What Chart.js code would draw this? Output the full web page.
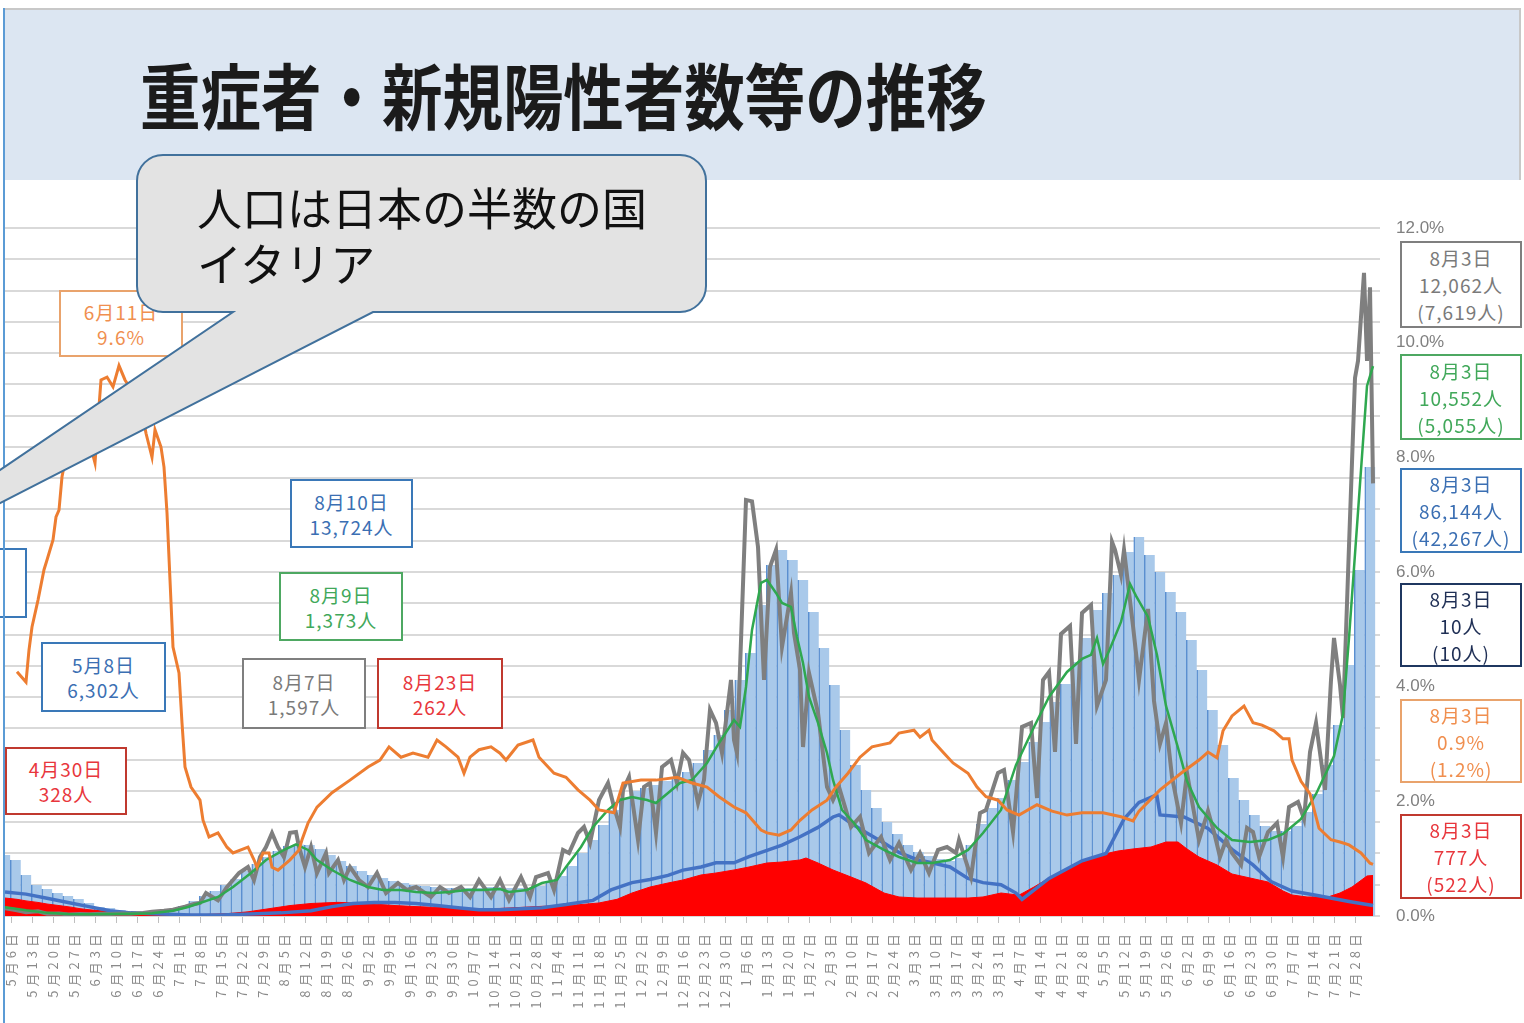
<!DOCTYPE html>
<html lang="ja">
<head>
<meta charset="utf-8">
<title>重症者・新規陽性者数等の推移</title>
<script src="https://cdn.jsdelivr.net/npm/chart.js@4.4.1/dist/chart.umd.min.js"></script>
<style>
  html, body { margin: 0; padding: 0; background: #fff; }
  body { width: 1524px; height: 1023px; position: relative; overflow: hidden; font-family: 'Noto Sans CJK JP', sans-serif; }
  #head { position: absolute; left: 5px; top: 8px; width: 1516px; height: 172px; background: #dce6f2; border-top: 2px solid #c8c8c8; border-right: 2px solid #c8c8c8; box-sizing: border-box; }
  #title { position: absolute; left: 140px; top: 57px; font-size: 72px; font-weight: 700; color: #1b1b1b; white-space: nowrap; line-height: 1; transform: scaleX(0.84); transform-origin: left top; }
  #frame { position: absolute; left: 3px; top: 8px; width: 2px; height: 1015px; background: #5b9bd5; z-index: 3; }
  #wrap { position: absolute; left: 0; top: 180px; width: 1524px; height: 843px; z-index: 1; }
  .box { position: absolute; box-sizing: border-box; background: #fff; border: 2px solid; display: flex; flex-direction: column; justify-content: center; align-items: center; font-size: 19px; letter-spacing: 1px; white-space: nowrap; z-index: 2; overflow: hidden; }
  #bubble { position: absolute; left: 0; top: 0; z-index: 4; }
  #bubbleText { position: absolute; left: 197px; top: 179px; font-size: 45px; line-height: 56px; color: #111; z-index: 5; white-space: nowrap; }
</style>
</head>
<body>
<div id="head"></div>
<div id="title">重症者・新規陽性者数等の推移</div>
<div id="frame"></div>
<div id="wrap"><canvas id="grafico" width="1524" height="843"></canvas></div>
<div id="notes"></div>
<svg id="bubble" width="1524" height="1023">
  <path d="M 163 155 H 680 A 26 26 0 0 1 706 181 V 286 A 26 26 0 0 1 680 312 H 373 L -199 605 L 233 312 H 163 A 26 26 0 0 1 137 286 V 181 A 26 26 0 0 1 163 155 Z"
        fill="#e3e3e3" stroke="#41719c" stroke-width="2"/>
</svg>
<div id="bubbleText">人口は日本の半数の国<br>イタリア</div>

<script>
// 週ごとの目盛り (5月6日 = 0日目)
const weekLabels = [
  '5月6日','5月13日','5月20日','5月27日','6月3日','6月10日','6月17日','6月24日',
  '7月1日','7月8日','7月15日','7月22日','7月29日','8月5日','8月12日','8月19日','8月26日',
  '9月2日','9月9日','9月16日','9月23日','9月30日','10月7日','10月14日','10月21日','10月28日',
  '11月4日','11月11日','11月18日','11月25日','12月2日','12月9日','12月16日','12月23日','12月30日',
  '1月6日','1月13日','1月20日','1月27日','2月3日','2月10日','2月17日','2月24日',
  '3月3日','3月10日','3月17日','3月24日','3月31日','4月7日','4月14日','4月21日','4月28日',
  '5月5日','5月12日','5月19日','5月26日','6月2日','6月9日','6月16日','6月23日','6月30日',
  '7月7日','7月14日','7月21日','7月28日'
]

// 現在患者数 (棒, 3.5日ごと, -2日目から)
const barStart = -2
const barStep = 3.5
const barVals = [
  11700,10750,7870,5950,5180,4410,3840,3260,2490,1730,
  1540,1150,960,770,770,960,1340,1920,2880,3840,
  4800,5950,7100,8640,9980,11320,12470,13430,13724,13600,
  12860,11700,10550,9590,8640,7870,7290,6720,6330,5950,
  5760,5560,5370,5370,5370,5370,5560,5560,5370,5370,
  5370,5760,6520,7680,9590,12090,14580,17460,20340,22640,
  23990,24560,25140,25910,26670,27630,29360,31850,34730,39530,
  45290,50470,59680,67350,70230,68310,64480,58340,51430,44330,
  35690,28980,24180,20720,18040,15740,13620,12280,11510,10940,
  10550,11130,13620,17650,20720,22640,26100,29550,33390,37230,
  41070,44520,48740,53350,58720,61980,65440,69850,72730,69280,
  66010,62180,58340,52960,47210,39530,32810,26480,22260,19380,
  17270,16310,16310,17270,19960,23410,28980,36650,48170,66400,
  86144
]

// 新規陽性者数 (灰)
const casesDays = [-2,2,5,9,12,16,19,23,26,30,33,37,40,44,47,51,54,58,61,63,65,69,72,74,76,79,81,83,85,87,89,91,93,95,96,98,100,102,105,106,109,111,113,116,119,122,125,129,132,135,140,143,146,150,153,156,160,163,166,170,173,175,179,181,184,186,189,191,193,196,199,201,203,204,206,209,211,213,215,217,220,222,224,226,229,231,233,235,237,240,241,242,245,247,249,251,253,255,257,260,261,263,264,266,269,272,274,276,280,283,286,290,293,296,300,303,306,309,312,315,316,320,323,325,329,331,334,337,340,342,344,346,348,350,353,355,357,360,362,365,367,368,370,371,374,376,379,381,383,385,387,390,392,394,396,399,401,403,405,407,410,412,414,416,419,422,424,426,429,431,433,435,438,440,441,443,444,446,448,449,451,452,453,454]
const casesVals = [150,110,70,90,45,50,30,40,35,45,40,50,45,60,80,100,120,180,230,250,440,300,556,691,825,940,691,1132,1324,1593,1324,1132,1597,1612,1324,940,1324,825,1209,825,1075,691,940,691,556,825,441,633,499,556,365,556,441,556,365,691,365,691,307,748,365,748,825,499,1267,1209,1593,1708,1401,2226,2552,2092,1708,2418,2667,1458,2476,2552,1593,2859,2994,2552,3128,2994,2168,2610,3953,3704,3128,4529,3377,3128,7983,7957,7081,4529,6697,7024,5162,6198,5431,4721,3243,4663,3896,2476,2226,2476,1708,1900,1209,1516,1075,1401,883,1209,825,1267,1324,1209,1458,748,1977,2034,2744,2802,1612,3627,3704,2264,4529,4682,3147,5412,5565,3301,5815,5968,4030,4529,7177,7024,6544,7024,5565,4529,5891,4126,3301,3704,2667,1785,2744,2092,1458,2015,1612,1132,1458,1209,979,1689,1612,1132,1612,1785,1132,2092,2188,1861,3147,3704,2418,4529,5335,4433,3800,7100,10324,10650,12341,10650,12062,8300]

// 7日間平均 (緑)
const avgDays = [-2,5,12,19,26,33,40,47,54,59,63,69,74,80,85,91,95,99,102,107,113,119,124,130,135,141,146,152,157,163,166,172,177,182,185,190,194,199,203,207,212,215,219,223,227,232,236,241,243,245,247,250,252,255,257,260,262,264,266,269,272,274,277,281,285,291,296,302,307,313,319,324,330,335,341,346,352,357,360,362,364,366,370,373,375,379,382,385,389,392,396,402,407,413,419,424,430,435,441,444,446,449,451,452,454]
const avgVals = [170,110,60,40,35,40,45,55,100,173,249,365,556,825,1075,1267,1373,1267,1075,883,691,556,499,499,461,441,461,499,499,518,461,499,633,691,940,1324,1708,2034,2226,2284,2226,2168,2360,2552,2610,2936,3320,3761,3627,4394,5488,6390,6448,6198,6006,5930,5354,4855,4203,3704,3128,2610,2034,1785,1458,1267,1132,1017,1017,1075,1267,1593,2034,2898,3627,4203,4682,4932,5009,5335,4836,5085,5642,6371,6141,5738,5009,4030,3224,2591,2092,1689,1458,1420,1458,1574,1861,2341,3070,3876,5335,7753,9365,10171,10552]

// 重症者数 (赤)
const severeDays = [-2,2,5,9,12,16,20,23,26,30,37,44,51,58,65,72,79,86,93,100,109,114,121,128,135,142,149,156,163,170,177,186,196,202,207,213,219,224,230,235,241,246,252,257,263,265,269,274,280,285,291,296,302,307,313,319,324,330,336,341,346,352,357,363,369,374,380,385,389,392,396,402,407,413,419,424,427,432,439,443,447,452,454]
const severeVals = [345,320,290,260,230,200,170,140,120,100,70,50,40,30,30,45,80,140,200,240,262,250,230,200,180,165,150,140,145,165,185,200,250,320,441,556,633,691,787,825,883,940,1017,1036,1075,1113,1017,883,748,633,441,365,345,345,345,345,365,441,400,556,729,883,1055,1171,1247,1286,1324,1420,1420,1286,1132,979,806,729,652,480,403,365,365,441,556,768,777]

// 死亡者数 (青線)
const deathDays = [-2,5,12,19,26,33,40,50,60,70,80,90,100,107,114,121,128,135,142,149,156,163,170,177,185,194,200,207,213,219,224,230,235,241,246,252,257,263,269,274,276,280,285,291,296,302,307,313,319,324,330,335,337,346,357,365,371,376,381,382,383,391,399,407,414,420,427,435,446,454]
const deathVals = [23,21,17,13,9,5,3,2,1,1,2,3,5,9,12,13,13,12,10,8,6,6,7,8,11,15,25,32,35,39,44,47,51,51,57,63,68,76,85,95,97,89,80,70,61,54,51,47,36,32,30,22,16,36,53,60,93,109,115,115,97,95,84,64,49,33,24,20,14,10]

// 陽性率 (橙, %)
const rateDays = [2,5,6,7,9,11,12,14,15,16,17,19,23,26,28,29,30,32,34,36,38,41,44,45,47,48,50,51,52,53,54,56,57,58,60,63,64,66,69,72,74,79,81,82,84,86,87,89,93,96,97,99,102,107,113,119,123,126,130,134,139,142,145,149,151,153,156,160,163,165,169,174,176,181,185,189,193,196,201,204,210,215,222,227,232,236,241,245,250,252,256,260,263,267,272,275,279,283,287,293,296,301,303,306,307,311,314,319,322,325,329,332,336,342,347,352,357,364,370,374,376,383,390,396,399,402,404,407,411,414,417,421,424,426,427,430,433,436,440,443,446,450,453,454]
const rateVals = [4.26,4.08,4.64,5.04,5.51,6.04,6.21,6.56,6.96,7.08,7.66,8.2,8.5,8.3,7.9,8.65,9.35,9.4,9.23,9.6,9.35,9.1,8.7,8.42,8.0,8.48,8.18,7.83,7.03,5.86,4.69,4.24,3.37,2.6,2.25,2.02,1.67,1.38,1.45,1.2,1.1,1.2,0.98,0.85,1.1,1.1,0.85,0.8,0.98,1.15,1.33,1.62,1.9,2.15,2.37,2.6,2.72,2.95,2.77,2.84,2.77,3.07,2.95,2.77,2.49,2.77,2.9,2.95,2.84,2.72,2.98,3.07,2.77,2.49,2.42,2.2,2.02,1.85,1.8,2.32,2.37,2.37,2.42,2.32,2.25,2.08,1.9,1.8,1.5,1.45,1.41,1.5,1.67,1.85,2.02,2.25,2.49,2.77,2.95,3.02,3.19,3.24,3.12,3.24,3.07,2.84,2.67,2.49,2.25,2.08,2.02,1.85,1.76,1.94,1.83,1.76,1.8,1.8,1.73,1.66,1.83,2.2,2.49,2.72,2.86,2.76,3.23,3.49,3.66,3.37,3.33,3.23,3.09,3.09,2.72,2.35,2.13,1.53,1.33,1.29,1.24,1.1,0.92,0.9]

// 数値ボックス
const notes = [
  { lines: ['6月11日', '9.6%'], x: 59, y: 290, w: 124, h: 67, border: '#e9a36c', color: '#f08f4f' },
  { lines: [], x: -95, y: 548, w: 122, h: 70, border: '#3a78b8', color: '#3b6fb3' },
  { lines: ['5月8日', '6,302人'], x: 41, y: 642, w: 125, h: 70, border: '#3a78b8', color: '#3b6fb3' },
  { lines: ['4月30日', '328人'], x: 5, y: 747, w: 122, h: 68, border: '#c0392f', color: '#e8363c' },
  { lines: ['8月10日', '13,724人'], x: 290, y: 479, w: 123, h: 69, border: '#3a78b8', color: '#3b6fb3' },
  { lines: ['8月9日', '1,373人'], x: 279, y: 572, w: 124, h: 69, border: '#4ea862', color: '#41a85a' },
  { lines: ['8月7日', '1,597人'], x: 242, y: 658, w: 124, h: 71, border: '#7f7f7f', color: '#7a7a7a' },
  { lines: ['8月23日', '262人'], x: 377, y: 658, w: 126, h: 71, border: '#c0392f', color: '#e8363c' },
  { lines: ['8月3日', '12,062人', '(7,619人)'], x: 1400, y: 241, w: 122, h: 87, border: '#7f7f7f', color: '#7a7a7a' },
  { lines: ['8月3日', '10,552人', '(5,055人)'], x: 1400, y: 354, w: 122, h: 86, border: '#4ea862', color: '#41a85a' },
  { lines: ['8月3日', '86,144人', '(42,267人)'], x: 1400, y: 468, w: 122, h: 85, border: '#3a78b8', color: '#3b6fb3' },
  { lines: ['8月3日', '10人', '(10人)'], x: 1400, y: 583, w: 122, h: 84, border: '#1f3760', color: '#1f2f55' },
  { lines: ['8月3日', '0.9%', '(1.2%)'], x: 1400, y: 699, w: 122, h: 84, border: '#e9a36c', color: '#f08f4f' },
  { lines: ['8月3日', '777人', '(522人)'], x: 1400, y: 814, w: 122, h: 85, border: '#c0392f', color: '#e8363c' }
]

const notesDiv = document.getElementById('notes')
notes.forEach(function (n) {
  const d = document.createElement('div')
  d.className = 'box'
  d.style.left = n.x + 'px'
  d.style.top = n.y + 'px'
  d.style.width = n.w + 'px'
  d.style.height = n.h + 'px'
  d.style.borderColor = n.border
  d.style.color = n.color
  d.style.lineHeight = (n.lines.length > 2 ? 27 : 25) + 'px'
  n.lines.forEach(function (t) {
    const s = document.createElement('div')
    s.textContent = t
    d.appendChild(s)
  })
  notesDiv.appendChild(d)
})

function pontos(dias, valores) {
  return dias.map((d, i) => ({ x: d, y: valores[i] }))
}

// 日付ラベルだけ字間を広げる (x軸ラベルはデータの後に描かれる)
const espacamento = {
  id: 'espacamento',
  afterDatasetsDraw(chart) { chart.ctx.letterSpacing = '4px' },
  afterDraw(chart) { chart.ctx.letterSpacing = '0px' }
}

Chart.defaults.font.family = "'Noto Sans CJK JP', sans-serif"

const ctx = document.getElementById('grafico').getContext('2d')

const grafico = new Chart(ctx, {
  type: 'line',
  data: {
    datasets: [
      {
        label: '割合',
        data: pontos(rateDays, rateVals),
        yAxisID: 'yPct',
        borderColor: '#ed7d31',
        borderWidth: 3,
        pointRadius: 0,
        order: 1
      },
      {
        label: '7日間平均',
        data: pontos(avgDays, avgVals),
        yAxisID: 'yCount',
        borderColor: '#2fa84f',
        borderWidth: 2.5,
        pointRadius: 0,
        order: 2
      },
      {
        label: '新規陽性者数',
        data: pontos(casesDays, casesVals),
        yAxisID: 'yCount',
        borderColor: '#7f7f7f',
        borderWidth: 4,
        pointRadius: 0,
        order: 3
      },
      {
        label: '死亡者数',
        data: pontos(deathDays, deathVals),
        yAxisID: 'yLine',
        borderColor: '#4472c4',
        borderWidth: 3.5,
        pointRadius: 0,
        order: 4
      },
      {
        label: '重症者数',
        data: pontos(severeDays, severeVals),
        yAxisID: 'yCount',
        borderColor: '#ff0000',
        backgroundColor: '#ff0000',
        borderWidth: 1,
        fill: 'origin',
        pointRadius: 0,
        order: 5
      },
      {
        type: 'bar',
        label: '現在患者数',
        data: barVals.map((v, i) => ({ x: barStart + i * barStep, y: v })),
        yAxisID: 'yBar',
        backgroundColor: '#a9c9ea',
        borderColor: '#5a8fd0',
        borderWidth: { left: 1.5, right: 0, top: 0, bottom: 0 },
        borderSkipped: 'start',
        barPercentage: 1,
        categoryPercentage: 1,
        grouped: false,
        order: 6
      }
    ]
  },
  plugins: [espacamento],
  options: {
    responsive: false,
    animation: false,
    layout: { padding: { left: 5, top: 48, right: 0, bottom: 0 } },
    plugins: {
      legend: { display: false },
      tooltip: { enabled: false }
    },
    scales: {
      x: {
        type: 'linear',
        min: -2,
        max: 456.33,
        offset: false,
        grid: { display: true, drawOnChartArea: false, drawTicks: true, tickLength: 7, color: '#bfbfbf', offset: false },
        border: { display: false },
        afterBuildTicks: function (scale) {
          scale.ticks = weekLabels.map((_, i) => ({ value: i * 7 }))
        },
        afterFit: function (scale) { scale.height = 107 },
        ticks: {
          z: 1,
          autoSkip: false,
          minRotation: 90,
          maxRotation: 90,
          padding: 7,
          color: '#8a8a8a',
          font: { size: 13 },
          callback: (v, i) => weekLabels[i]
        }
      },
      yCount: {
        position: 'left',
        min: 0,
        max: 13200,
        ticks: { stepSize: 600, display: false },
        grid: { color: '#d9d9d9', lineWidth: 2, drawTicks: false },
        border: { display: false },
        afterFit: function (scale) { scale.width = 0 }
      },
      yBar: { display: false, min: 0, max: 132000 },
      yLine: { display: false, min: 0, max: 660 },
      yPct: {
        position: 'right',
        min: 0,
        max: 12,
        ticks: {
          stepSize: 2,
          padding: 8,
          color: '#808080',
          font: { family: 'Liberation Sans', size: 17 },
          callback: v => v.toFixed(1) + '%'
        },
        grid: { display: false },
        border: { display: false },
        afterFit: function (scale) { scale.width = 144 }
      }
    }
  }
})
</script>
</body>
</html>
